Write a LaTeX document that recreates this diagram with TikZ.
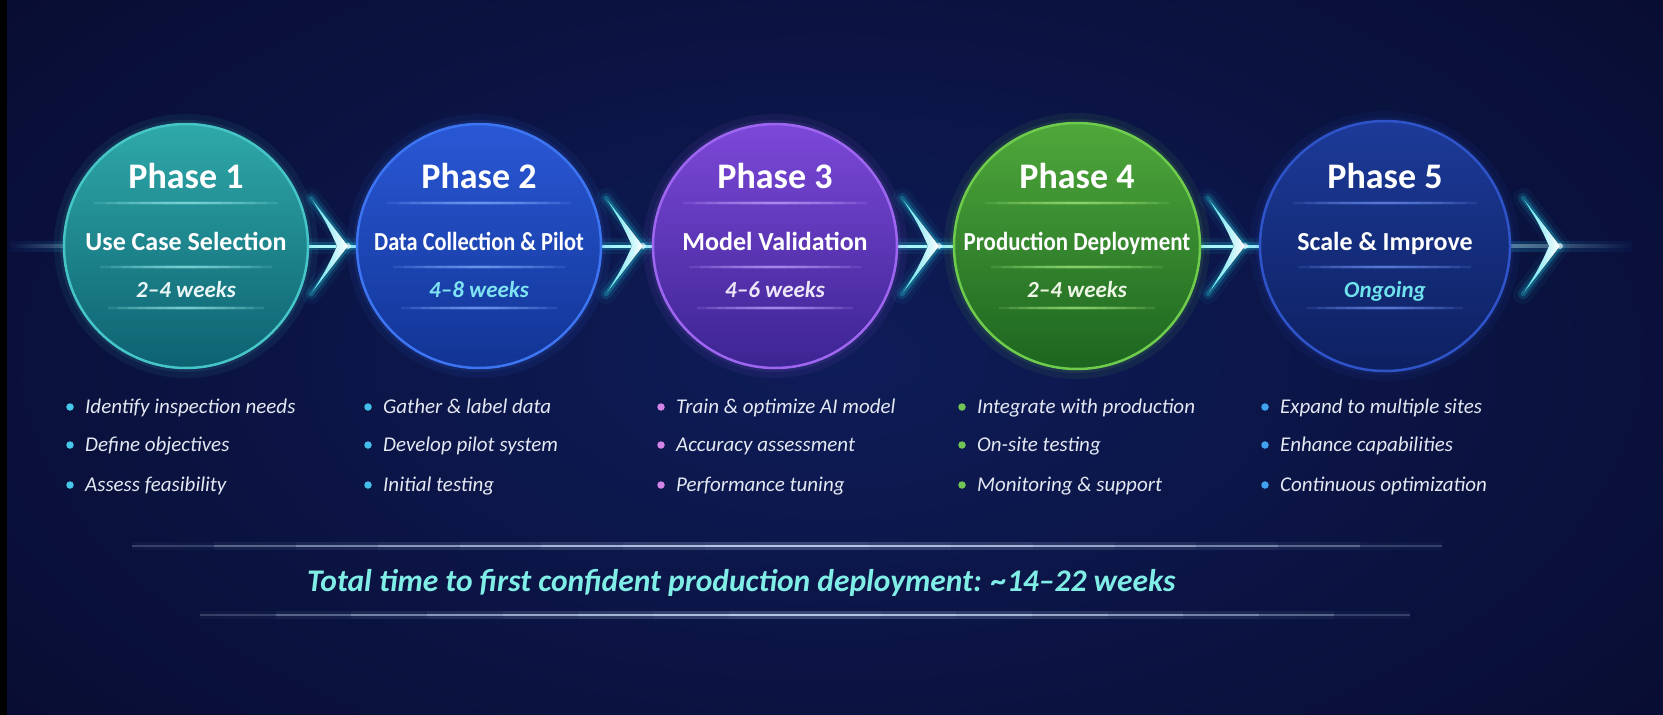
\documentclass[tikz,border=0pt]{standalone}
\usepackage{fontspec}
\setmainfont{Carlito}
\usetikzlibrary{calc}

\definecolor{bgA}{HTML}{0E1C58}
\definecolor{bgB}{HTML}{080C30}
\definecolor{bgL}{HTML}{0B1444}
\definecolor{glowc}{HTML}{22D8EE}
\definecolor{flowcore}{HTML}{A8F6FC}
\definecolor{p1top}{HTML}{2FA9AA}\definecolor{p1mid}{HTML}{168089}\definecolor{p1bot}{HTML}{0D6170}\definecolor{p1rim}{HTML}{45C5C5}\definecolor{p1div}{HTML}{8FE6E6}
\definecolor{p2top}{HTML}{2A58D6}\definecolor{p2mid}{HTML}{1B44BA}\definecolor{p2bot}{HTML}{113494}\definecolor{p2rim}{HTML}{3C74F2}\definecolor{p2div}{HTML}{80AAFF}
\definecolor{p3top}{HTML}{7C48D8}\definecolor{p3mid}{HTML}{5A32B9}\definecolor{p3bot}{HTML}{3C2492}\definecolor{p3rim}{HTML}{9E66F0}\definecolor{p3div}{HTML}{C0A0FF}
\definecolor{p4top}{HTML}{4FA83B}\definecolor{p4mid}{HTML}{2F8B2B}\definecolor{p4bot}{HTML}{1C6520}\definecolor{p4rim}{HTML}{6ECB4C}\definecolor{p4div}{HTML}{A0E680}
\definecolor{p5top}{HTML}{1C3A98}\definecolor{p5mid}{HTML}{132C80}\definecolor{p5bot}{HTML}{0D2060}\definecolor{p5rim}{HTML}{2F54CA}\definecolor{p5div}{HTML}{6E8EF0}
\definecolor{t1}{HTML}{EAF6F6}\definecolor{t2}{HTML}{7FE3F2}\definecolor{t3}{HTML}{ECE6F8}\definecolor{t4}{HTML}{EEF6E6}\definecolor{t5}{HTML}{6FE2EC}
\definecolor{d1}{HTML}{45C8EA}\definecolor{d2}{HTML}{45BDEB}\definecolor{d3}{HTML}{D384E6}\definecolor{d4}{HTML}{72C455}\definecolor{d5}{HTML}{42A2F2}
\definecolor{itemtxt}{HTML}{E4E8F2}
\definecolor{totaltxt}{HTML}{80EEE6}
\definecolor{barc}{HTML}{D0E2FF}

\tikzset{
  pcirc/.style={circle, inner sep=0pt, line width=2.5pt},
  ptitle/.style={font=\bfseries\fontsize{36}{40}\selectfont, text=white, anchor=base, inner sep=0pt},
  psub/.style={font=\bfseries\fontsize{26}{30}\selectfont, text=white, anchor=base, inner sep=0pt},
  ptime/.style={font=\bfseries\itshape\fontsize{23}{27}\selectfont, anchor=base, inner sep=0pt},
  bitem/.style={font=\itshape\fontsize{21}{25}\selectfont, text=itemtxt, anchor=base west, inner sep=0pt},
  bdot/.style={circle, inner sep=0pt, minimum size=7.5pt},
  flowA/.style={line width=16pt, glowc, opacity=0.07},
  flowB/.style={line width=8pt, glowc, opacity=0.22},
  flowC/.style={line width=3pt, flowcore},
}

% faded horizontal line centred on a point: centre, halfwidth, colour, line width, opacity per layer
\newcommand{\fadeline}[5]{%
  \foreach \k in {1,...,8}{
    \draw[#3, line width=#4, opacity=#5] ($(#1)+(-#2*\k/8,0)$) -- ($(#1)+(#2*\k/8,0)$);
  }
}

% phase circle: index, x, radius, title, subtitle, time
\newcommand{\phasecirc}[6]{%
  \fill[p#1rim, opacity=0.08] (#2,246) circle (#3+10);
  \fill[p#1rim, opacity=0.10] (#2,246) circle (#3+4);
  \node[pcirc, minimum size=2*#3, top color=p#1top, middle color=p#1mid, bottom color=p#1bot, draw=p#1rim] (c#1) at (#2,246) {};
  \coordinate (v#1a) at ($(c#1)+(0,-43)$);
  \coordinate (v#1b) at ($(c#1)+(0,21)$);
  \coordinate (v#1c) at ($(c#1)+(0,62)$);
  \fadeline{v#1a}{92}{p#1div}{4pt}{0.035}
  \fadeline{v#1a}{92}{p#1div}{1.4pt}{0.14}
  \fadeline{v#1b}{86}{p#1div}{4pt}{0.035}
  \fadeline{v#1b}{86}{p#1div}{1.4pt}{0.14}
  \fadeline{v#1c}{78}{p#1div}{4pt}{0.035}
  \fadeline{v#1c}{78}{p#1div}{1.4pt}{0.14}
  \node[ptitle] (h#1) at ($(c#1)+(0,-58)$) {#4};
  \node[psub] (s#1) at ($(c#1)+(0,4)$) {#5};
  \node[ptime, text=t#1] (w#1) at ($(c#1)+(0,51)$) {#6};
}

% chevron with tip at a named coordinate
\newcommand{\chevron}[1]{%
  \foreach \gw/\go in {20/0.05, 11/0.12, 5/0.25}{
    \draw[glowc, line width=\gw pt, opacity=\go, line join=round, line cap=round] ($(#1)+(-37,-48)$) -- (#1) -- ($(#1)+(-37,48)$);
  }
  \fill[left color=glowc!80!white, right color=white] ($(#1)+(-37,-48)$) -- (#1) -- ($(#1)+(-37,48)$) .. controls ($(#1)+(-21,22)$) .. ($(#1)+(-11,0)$) .. controls ($(#1)+(-21,-22)$) .. cycle;
  \fill[white, opacity=0.6] (#1) circle (3);
}

% bullet column: index, dot x, item 1, item 2, item 3
\newcommand{\bulletcol}[5]{%
  \node[bdot, fill=d#1] (d#1a) at (#2,407) {};
  \node[bitem] (i#1a) at (#2+15,413) {#3};
  \node[bdot, fill=d#1] (d#1b) at (#2,445) {};
  \node[bitem] (i#1b) at (#2+15,451) {#4};
  \node[bdot, fill=d#1] (d#1c) at (#2,485) {};
  \node[bitem] (i#1c) at (#2+15,491) {#5};
}

\begin{document}
\begin{tikzpicture}[x=1pt,y=-1pt]
\useasboundingbox (0,0) rectangle (1663,715);
% background
\shade[inner color=bgA, outer color=bgB] (-300,-250) rectangle (1963,965);
\fill[black] (0,0) rectangle (7,715);

% end coordinates and chevron tips
\coordinate (start) at (10,246);
\coordinate (finish) at (1632,246);
\coordinate (ch1) at (348,246);
\coordinate (ch2) at (643,246);
\coordinate (ch3) at (939,246);
\coordinate (ch4) at (1245,246);
\coordinate (ch5) at (1560,246);

% circle positions (for connectors drawn before circles)
\coordinate (k1) at (186,246);
\coordinate (k2) at (479,246);
\coordinate (k3) at (775,246);
\coordinate (k4) at (1077,246);
\coordinate (k5) at (1385,246);

% flow lines
\foreach \a/\b in {k1/k2, k2/k3, k3/k4, k4/k5}{
  \draw[flowA] (\a) -- (\b);
  \draw[flowB] (\a) -- (\b);
  \draw[flowC] (\a) -- (\b);
}
% fading ends
\shade[left color=bgL, right color=glowc!35!bgL] ($(start)+(0,-5)$) rectangle ($(k1)+(0,5)$);
\shade[left color=bgL, right color=flowcore] ($(start)+(0,-1.5)$) rectangle ($(k1)+(0,1.5)$);
\shade[left color=glowc!35!bgL, right color=bgL] ($(k5)+(0,-5)$) rectangle ($(finish)+(0,5)$);
\shade[left color=flowcore, right color=bgL] ($(k5)+(0,-1.5)$) rectangle ($(finish)+(0,1.5)$);

% phases
\phasecirc{1}{186}{122}{Phase 1}{Use Case Selection}{2–4 weeks}
\phasecirc{2}{479}{122}{Phase 2}{\scalebox{0.86}[1]{Data Collection \& Pilot}}{4–8 weeks}
\phasecirc{3}{775}{122}{Phase 3}{Model Validation}{4–6 weeks}
\phasecirc{4}{1077}{123}{Phase 4}{\scalebox{0.88}[1]{Production Deployment}}{2–4 weeks}
\phasecirc{5}{1385}{125}{Phase 5}{Scale \& Improve}{Ongoing}

% chevrons
\chevron{ch1}
\chevron{ch2}
\chevron{ch3}
\chevron{ch4}
\chevron{ch5}

% bullets
\bulletcol{1}{70}{Identify inspection needs}{Define objectives}{Assess feasibility}
\bulletcol{2}{368}{Gather \& label data}{Develop pilot system}{Initial testing}
\bulletcol{3}{661}{Train \& optimize AI model}{Accuracy assessment}{Performance tuning}
\bulletcol{4}{962}{Integrate with production}{On-site testing}{Monitoring \& support}
\bulletcol{5}{1265}{Expand to multiple sites}{Enhance capabilities}{Continuous optimization}

% total bar
\coordinate (barT) at (787,546);
\coordinate (barB) at (805,615);
\fadeline{barT}{655}{barc}{8pt}{0.035}
\fadeline{barT}{655}{barc}{2.4pt}{0.2}
\fadeline{barB}{605}{barc}{8pt}{0.035}
\fadeline{barB}{605}{barc}{2.4pt}{0.2}
\node[font=\bfseries\itshape\fontsize{31.5}{36}\selectfont, text=totaltxt, anchor=base west, inner sep=0pt] (total) at (307,591) {Total time to first confident production deployment: \textasciitilde 14–22 weeks};
\end{tikzpicture}
\end{document}
